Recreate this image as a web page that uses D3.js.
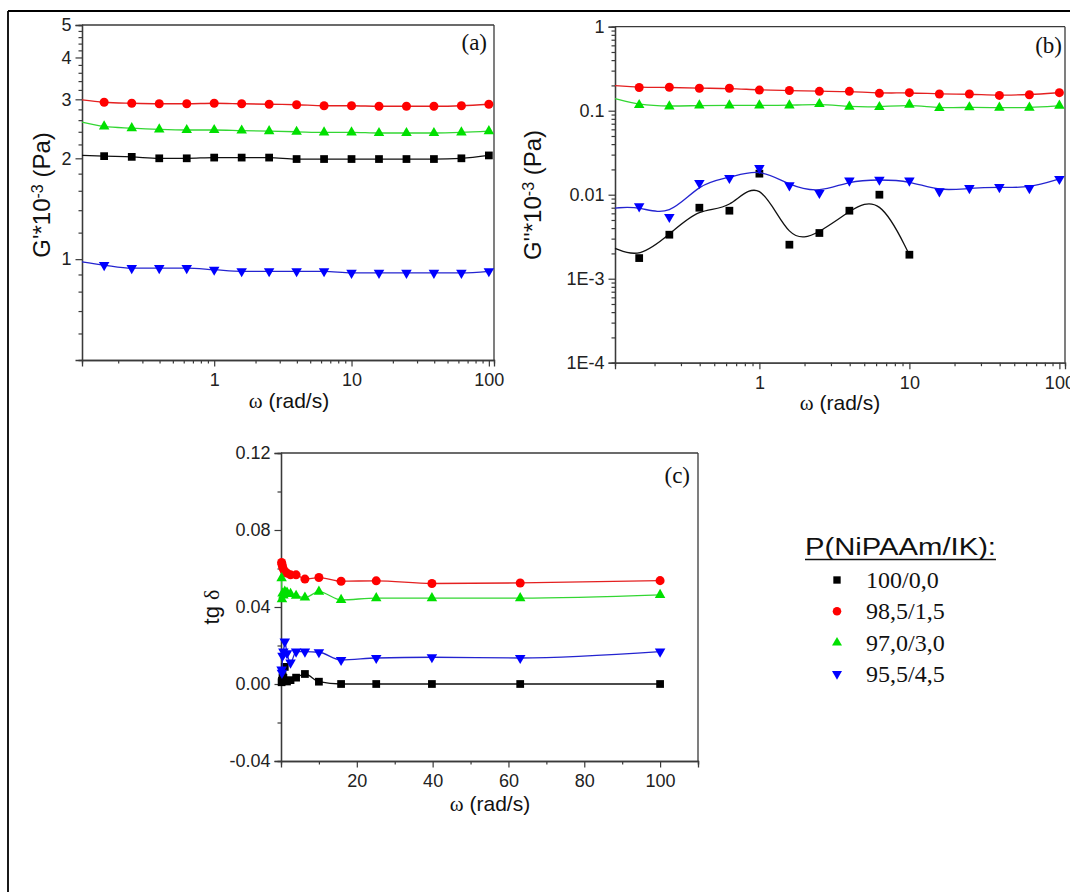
<!DOCTYPE html>
<html><head><meta charset="utf-8">
<script src="https://cdn.jsdelivr.net/npm/d3@7"></script>
<style>body{margin:0;background:#fff} svg{display:block}</style>
</head><body><svg id="chart" width="1070" height="892"></svg>
<script>
// ---------------- DATA ----------------
const seriesNames = ["100/0,0", "98,5/1,5", "97,0/3,0", "95,5/4,5"];
const legendTitle = "P(NiPAAm/IK):";
const omega = [0.158, 0.251, 0.398, 0.631, 1, 1.585, 2.512, 3.981, 6.31, 10, 15.85, 25.12, 39.81, 63.1, 100];
const omegaFitStart = 0.109;   // fitted curves start at the left axis

// (a) G' * 10^-3 (Pa)
const gp100 = [2.03, 2.02, 2.00, 2.00, 2.01, 2.01, 2.01, 1.99, 1.99, 1.99, 1.99, 1.99, 1.99, 2.00, 2.04];
const gp985 = [2.94, 2.92, 2.91, 2.91, 2.92, 2.91, 2.90, 2.89, 2.87, 2.87, 2.86, 2.86, 2.86, 2.87, 2.90];
const gp970 = [2.49, 2.46, 2.44, 2.43, 2.43, 2.42, 2.41, 2.40, 2.39, 2.39, 2.38, 2.38, 2.38, 2.39, 2.41];
const gp955 = [0.96, 0.94, 0.94, 0.94, 0.93, 0.92, 0.92, 0.92, 0.92, 0.91, 0.91, 0.91, 0.91, 0.91, 0.92];
const gpFitStart = [2.04, 2.99, 2.565, 0.982];

// (b) G'' * 10^-3 (Pa)   (100/0,0 measured up to 10 rad/s only)
const gpp100 = [0.00176, 0.00334, 0.0070, 0.00645, 0.0178, 0.00254, 0.0035, 0.00645, 0.0100, 0.00193];
const gpp985 = [0.189, 0.190, 0.185, 0.185, 0.176, 0.174, 0.170, 0.170, 0.161, 0.164, 0.158, 0.158, 0.152, 0.155, 0.164];
const gpp970 = [0.117, 0.1125, 0.1156, 0.1156, 0.1156, 0.1156, 0.120, 0.1116, 0.1105, 0.118, 0.1076, 0.110, 0.1086, 0.1086, 0.1147];
const gpp955 = [0.00726, 0.00542, 0.01377, 0.0158, 0.0207, 0.0129, 0.01047, 0.0147, 0.0151, 0.0147, 0.01096, 0.0120, 0.0123, 0.0120, 0.0154];
const gppFitStart = [0.0023, 0.199, 0.139, 0.00694];

// (c) tg delta
const tan100 = [0.0009, 0.0017, 0.0035, 0.0032, 0.0089, 0.0013, 0.0020, 0.0033, 0.0052, 0.0012, 0, 0, 0, 0, 0];
const tan985 = [0.0631, 0.0622, 0.0610, 0.0597, 0.0584, 0.0576, 0.0567, 0.0567, 0.0545, 0.0553, 0.0534, 0.0536, 0.0522, 0.0525, 0.0537];
const tan970 = [0.055, 0.044, 0.047, 0.046, 0.048, 0.0475, 0.0468, 0.0458, 0.0449, 0.048, 0.0437, 0.0446, 0.0446, 0.0446, 0.0463];
const tan955 = [0.0075, 0.0058, 0.0146, 0.0168, 0.022, 0.016, 0.0111, 0.0168, 0.0168, 0.0165, 0.0125, 0.0135, 0.0139, 0.0135, 0.0168];

// tick labels
const xTicksLog = [1, 10, 100];
const yTicksA = [1, 2, 3, 4, 5];
const yTicksB = [1e-4, 1e-3, 0.01, 0.1, 1];
const yTickLabelsB = ["1E-4", "1E-3", "0.01", "0.1", "1"];
const xTicksC = [20, 40, 60, 80, 100];
const yTicksC = [-0.04, 0, 0.04, 0.08, 0.12];
const yTickLabelsC = ["-0.04", "0.00", "0.04", "0.08", "0.12"];

// ---------------- STYLE ----------------
const markerColors = ["#000000", "#ff0000", "#00e000", "#0000ff"];
const lineColors = ["#111111", "#e42020", "#33d633", "#2424d0"];
const symTypes = [d3.symbolSquare, d3.symbolCircle, d3.symbolTriangle, d3.symbolTriangle];
const symSizes = [60, 64, 48, 48];
const symRot = [0, 0, 0, 180];
const axisColor = "#3a3a3a";
const sans = "'Liberation Sans', Arial, sans-serif";
const serif = "'Liberation Serif', 'Times New Roman', serif";

const svg = d3.select("#chart");

// outer frame
svg.append("line").attr("x1", 8).attr("y1", 11).attr("x2", 1070).attr("y2", 11).attr("stroke", "#000").attr("stroke-width", 1.8);
svg.append("line").attr("x1", 8).attr("y1", 11).attr("x2", 8).attr("y2", 892).attr("stroke", "#000").attr("stroke-width", 1.8);

function decadeMinors(lo, hi) {
  const out = [];
  for (let e = lo; e < hi; e++) for (let m = 2; m <= 9; m++) out.push(m * Math.pow(10, e));
  return out;
}

function styleAxis(g) {
  g.select("path.domain").attr("stroke", axisColor).attr("stroke-width", 1.3);
  g.selectAll(".tick line").attr("stroke", axisColor).attr("stroke-width", 1.2);
  g.selectAll(".tick text").attr("fill", "#222").style("font-family", sans).style("font-size", "18px");
}

function drawFrame(box, x, y, xMajor, xFmt, xMinor, yMajor, yFmt, yMinor) {
  const g = svg.append("g");
  g.append("g").attr("transform", `translate(0,${box.bottom})`)
    .call(d3.axisBottom(x).tickValues(xMinor).tickSize(3.5).tickFormat(""))
    .call(styleAxis);
  g.append("g").attr("transform", `translate(${box.left},0)`)
    .call(d3.axisLeft(y).tickValues(yMinor).tickSize(3.5).tickFormat(""))
    .call(styleAxis);
  g.append("g").attr("transform", `translate(0,${box.bottom})`)
    .call(d3.axisBottom(x).tickValues(xMajor).tickSize(6.5).tickPadding(7).tickFormat(xFmt))
    .call(styleAxis);
  g.append("g").attr("transform", `translate(${box.left},0)`)
    .call(d3.axisLeft(y).tickValues(yMajor).tickSize(6.5).tickPadding(4).tickFormat(yFmt))
    .call(styleAxis);
  g.append("line").attr("x1", box.left).attr("x2", box.right).attr("y1", box.top).attr("y2", box.top)
    .attr("stroke", axisColor).attr("stroke-width", 1.3);
  g.append("line").attr("x1", box.right).attr("x2", box.right).attr("y1", box.top).attr("y2", box.bottom)
    .attr("stroke", axisColor).attr("stroke-width", 1.3);
}

function drawSeries(x, y, xs, ys, fitStart, idx, curve) {
  const pts = xs.slice(0, ys.length).map((w, i) => [w, ys[i]]);
  const linePts = fitStart == null ? pts : [[omegaFitStart, fitStart]].concat(pts);
  svg.append("path")
    .attr("d", d3.line().x(d => x(d[0])).y(d => y(d[1])).curve(curve)(linePts))
    .attr("fill", "none").attr("stroke", lineColors[idx]).attr("stroke-width", 1.3);
  const sym = d3.symbol().type(symTypes[idx]).size(symSizes[idx]);
  svg.append("g").selectAll("path").data(pts).join("path")
    .attr("d", sym)
    .attr("transform", d => `translate(${x(d[0])},${y(d[1])}) rotate(${symRot[idx]})`)
    .attr("fill", markerColors[idx]);
}

function xTitle(cx, cy) {
  const t = svg.append("text").attr("x", cx).attr("y", cy).attr("text-anchor", "middle")
    .style("font-family", sans).style("font-size", "21px").attr("fill", "#111");
  t.append("tspan").style("font-family", serif).text("ω");
  t.append("tspan").text(" (rad/s)");
}

function gTitle(cx, cy, primes) {
  const t = svg.append("text").attr("transform", `translate(${cx},${cy}) rotate(-90)`)
    .attr("text-anchor", "middle").style("font-family", sans).style("font-size", "24px").attr("fill", "#111");
  t.append("tspan").text("G" + primes + "*10");
  t.append("tspan").attr("dy", "-0.45em").style("font-size", "16px").text("-3");
  t.append("tspan").attr("dy", "0.3em").text(" (Pa)");
}

function panelLabel(x, y, s) {
  svg.append("text").attr("x", x).attr("y", y).attr("text-anchor", "end")
    .style("font-family", serif).style("font-size", "23px").attr("fill", "#111").text(s);
}

// ---------------- PANEL (a) ----------------
const boxA = {left: 82, right: 494, top: 25, bottom: 360};
const xA = d3.scaleLog().domain([0.109, 109]).range([boxA.left, boxA.right]);
const yA = d3.scaleLog().domain([0.5, 5]).range([boxA.bottom, boxA.top]);
const yMinorA = [0.6, 0.7, 0.8, 0.9, 1.2, 1.4, 1.6, 1.8, 2.2, 2.4, 2.6, 2.8, 3.2, 3.4, 3.6, 3.8, 4.2, 4.4, 4.6, 4.8];
drawFrame(boxA, xA, yA, xTicksLog, d => String(d), decadeMinors(-1, 2).filter(v => v > 0.11 && v < 108),
  yTicksA, d => String(d), yMinorA);
[gp100, gp985, gp970, gp955].forEach((arr, i) => drawSeries(xA, yA, omega, arr, gpFitStart[i], i, d3.curveMonotoneX));
gTitle(50, 195, "'");
xTitle(289, 408);
panelLabel(487, 50, "(a)");

// ---------------- PANEL (b) ----------------
const boxB = {left: 615, right: 1065, top: 26.7, bottom: 362.7};
const xB = d3.scaleLog().domain([0.109, 109]).range([boxB.left, boxB.right]);
const yB = d3.scaleLog().domain([1e-4, 1]).range([boxB.bottom, boxB.top]);
drawFrame(boxB, xB, yB, xTicksLog, d => String(d), decadeMinors(-1, 2).filter(v => v > 0.11 && v < 108),
  yTicksB, (d, i) => yTickLabelsB[i], decadeMinors(-4, 0));
[gpp100, gpp985, gpp970, gpp955].forEach((arr, i) => drawSeries(xB, yB, omega, arr, gppFitStart[i], i, d3.curveBasis));
gTitle(541, 195, "''");
xTitle(840, 410);
panelLabel(1062, 53, "(b)");

// ---------------- PANEL (c) ----------------
const boxC = {left: 281, right: 698, top: 453, bottom: 761};
const xC = d3.scaleLinear().domain([0, 110]).range([boxC.left, boxC.right]);
const yC = d3.scaleLinear().domain([-0.04, 0.12]).range([boxC.bottom, boxC.top]);
drawFrame(boxC, xC, yC, xTicksC, d => String(d), [10, 30, 50, 70, 90, 110],
  yTicksC, (d, i) => yTickLabelsC[i], [-0.02, 0.02, 0.06, 0.10]);
[tan100, tan985, tan970, tan955].forEach((arr, i) => drawSeries(xC, yC, omega, arr, null, i, d3.curveMonotoneX));
svg.append("text").attr("transform", "translate(219,607) rotate(-90)").attr("text-anchor", "middle")
  .style("font-family", sans).style("font-size", "22px").attr("fill", "#111")
  .call(t => { t.append("tspan").text("tg "); t.append("tspan").style("font-family", serif).text("δ"); });
xTitle(490, 811);
panelLabel(690, 483, "(c)");

// ---------------- LEGEND ----------------
const lg = svg.append("g");
lg.append("text").attr("x", 805).attr("y", 555).style("font-family", sans).style("font-size", "23px")
  .attr("fill", "#111").attr("textLength", 191).attr("lengthAdjust", "spacingAndGlyphs").text(legendTitle);
lg.append("line").attr("x1", 805).attr("x2", 996).attr("y1", 559.5).attr("y2", 559.5).attr("stroke", "#111").attr("stroke-width", 1.5);
const legY = d3.scalePoint().domain(seriesNames).range([580, 674]);
seriesNames.forEach((name, i) => {
  lg.append("path").attr("d", d3.symbol().type(symTypes[i]).size(symSizes[i] * 0.9)())
    .attr("transform", `translate(837,${legY(name)}) rotate(${symRot[i]})`).attr("fill", markerColors[i]);
  lg.append("text").attr("x", 866).attr("y", legY(name)).attr("dy", "0.33em")
    .style("font-family", serif).style("font-size", "24px").attr("fill", "#111").text(name);
});
</script></body></html>
